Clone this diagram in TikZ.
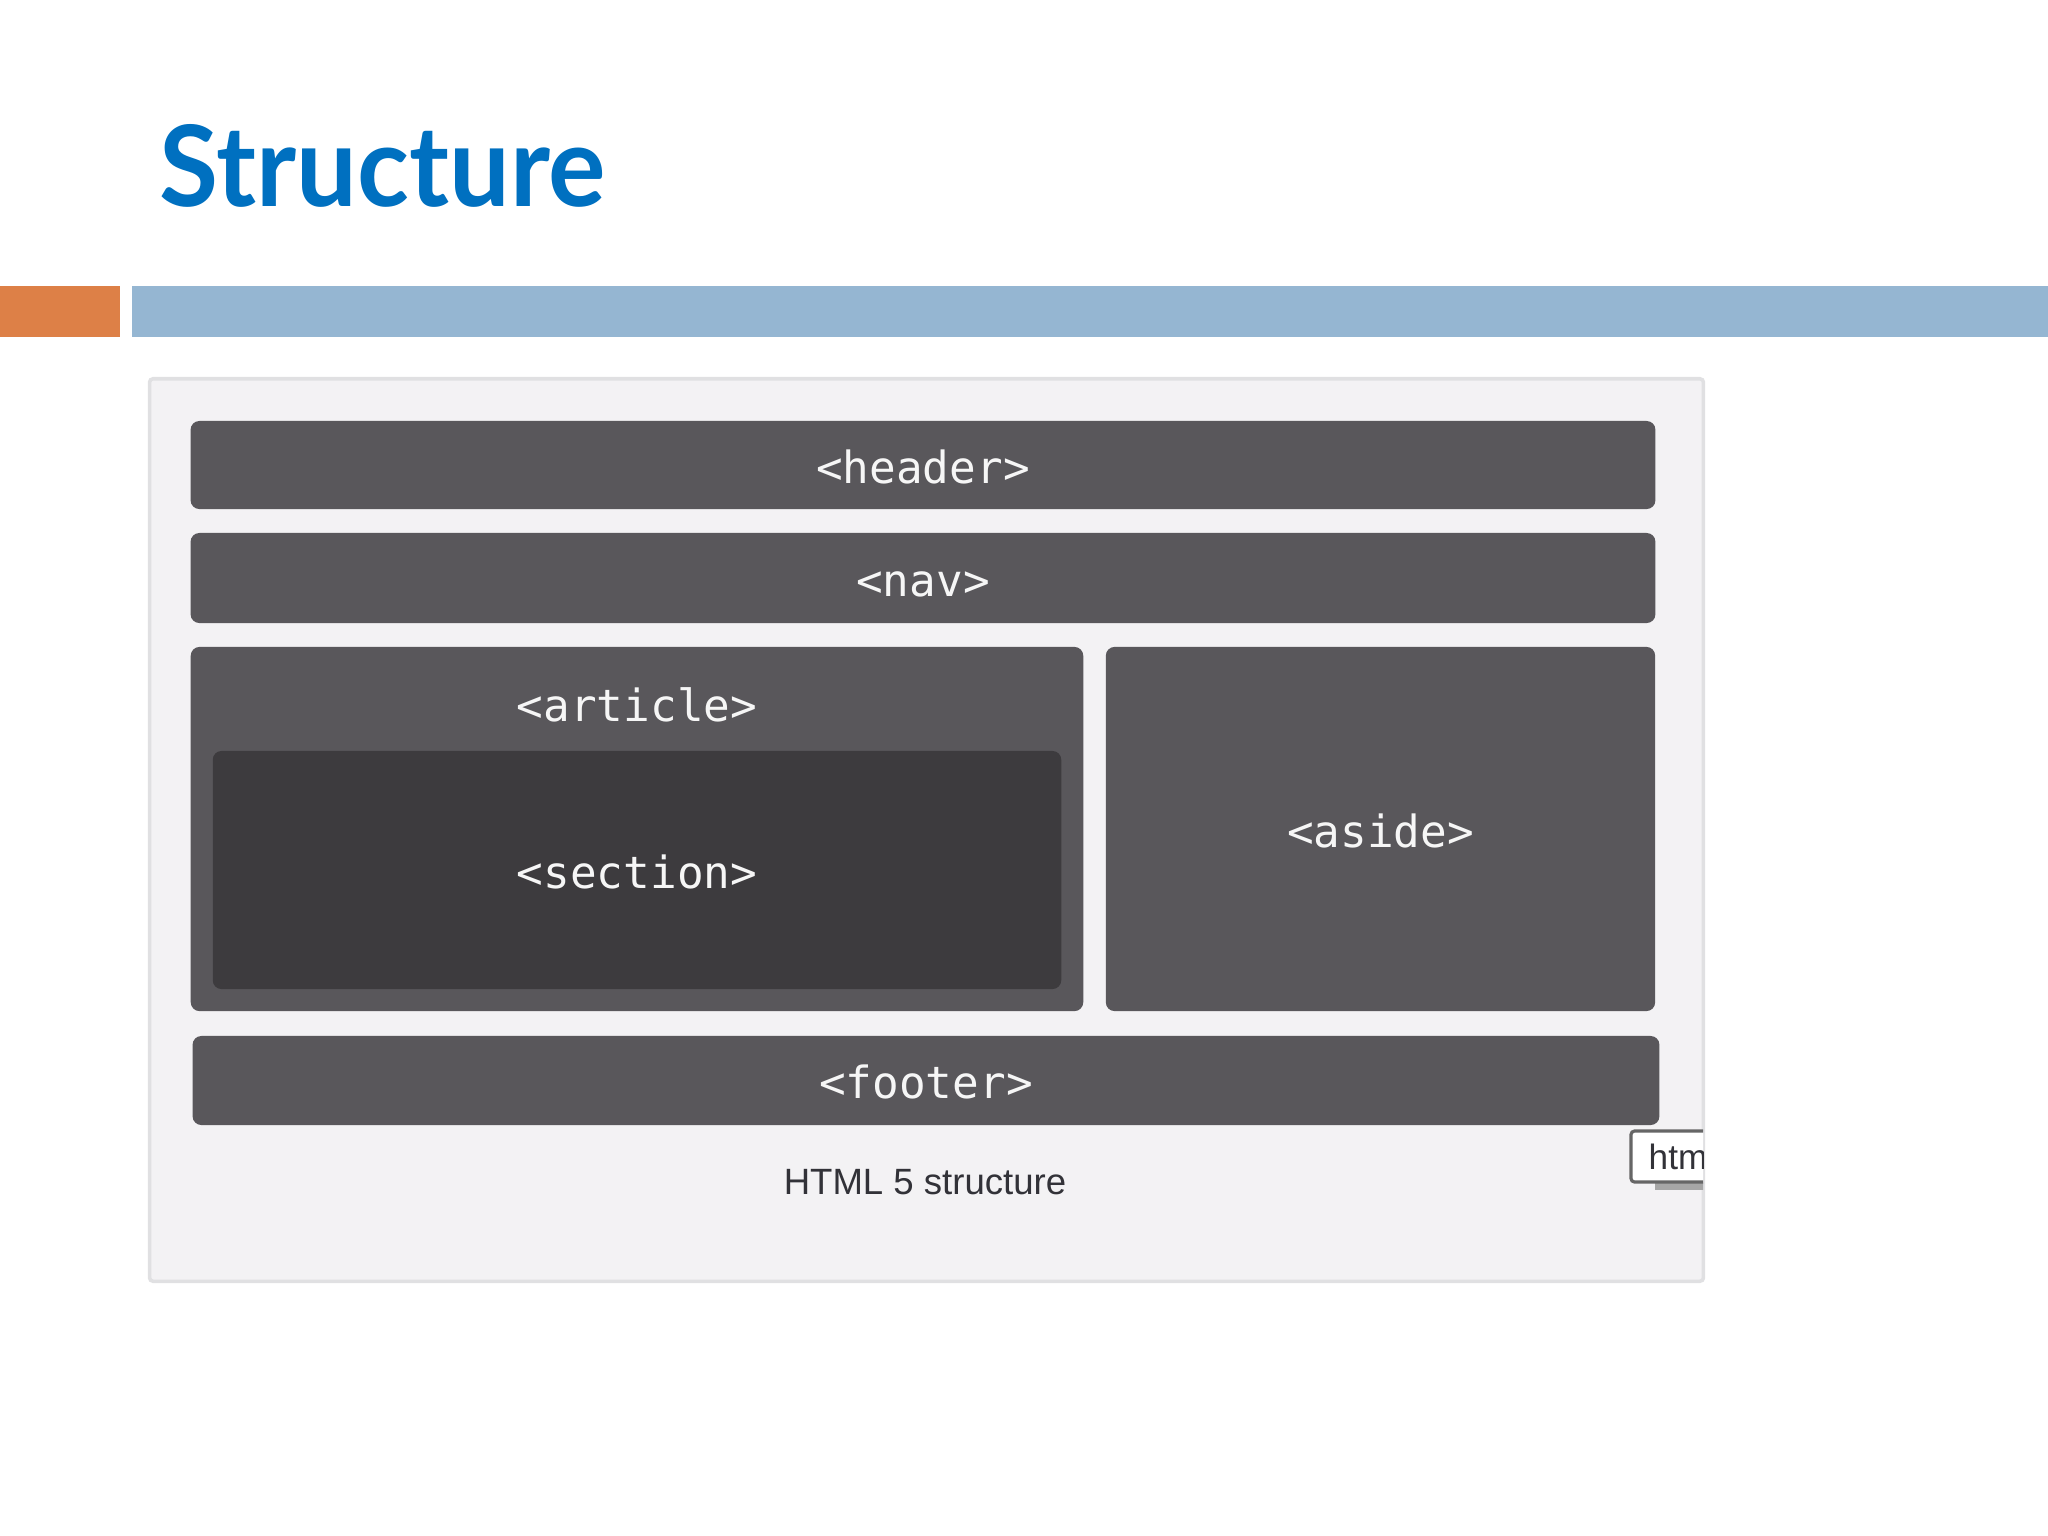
\documentclass[tikz,border=0pt]{standalone}
\usepackage{fontspec}
\usepackage{xcolor}
\usepackage{tikz}
\usetikzlibrary{positioning}
\newfontfamily\tagfont{DejaVu Sans Mono}
\newfontfamily\capfont{Liberation Sans}
\newfontfamily\titlefont{Lato}
\definecolor{titleblue}{RGB}{0,112,192}
\definecolor{barorange}{RGB}{221,128,71}
\definecolor{barblue}{RGB}{149,182,210}
\definecolor{panelgray}{RGB}{243,242,244}
\definecolor{panelline}{RGB}{224,224,226}
\definecolor{boxgray}{RGB}{89,87,91}
\definecolor{sectiongray}{RGB}{61,59,62}
\definecolor{tagwhite}{RGB}{246,246,246}
\definecolor{captext}{RGB}{50,50,56}
\tikzstyle{tagbox}=[rectangle,rounded corners=2.5pt,fill=boxgray,inner sep=0pt]
\tikzstyle{tagtext}=[text=tagwhite,font=\tagfont\fontsize{12.6}{15}\selectfont,inner sep=0pt,text height=10.5pt,text depth=0pt]

\begin{document}
\begin{tikzpicture}[x=0.01cm,y=-0.01cm]
\useasboundingbox (0,0) rectangle (2048,1536);
\fill[white] (0,0) rectangle (2048,1536);

%title
\node[anchor=base west,inner sep=0pt,text=titleblue] (title) at (159,206)
  {\resizebox{4.46cm}{0.82cm}{\titlefont\bfseries Structure}};

%bars
\fill[barorange] (0,286) rectangle (120,337);
\fill[barblue] (132,286) rectangle (2048,337);

%panel
\node[rectangle,rounded corners=1pt,fill=panelgray,draw=panelline,line width=1pt,
  minimum width=15.53cm,minimum height=9.02cm,inner sep=0pt] (panel) at (926.5,830) {};

%header and nav
\node[tagbox,tagtext,minimum width=14.64cm,minimum height=0.88cm] (header) at (923,465) {<header>};
\node[tagbox,tagtext,minimum width=14.64cm,minimum height=0.90cm] (nav) at (923,578) {<nav>};

%article with section
\node[tagbox,minimum width=8.92cm,minimum height=3.64cm] (article) at (637,829) {};
\node[tagtext] (articlelbl) at (637,703) {<article>};
\node[tagbox,tagtext,fill=sectiongray,minimum width=8.48cm,minimum height=2.38cm] (section) at (637,870) {<section>};

%aside
\node[tagbox,tagtext,minimum width=5.49cm,minimum height=3.64cm] (aside) at (1380.5,829) {<aside>};

%footer
\node[tagbox,tagtext,minimum width=14.66cm,minimum height=0.89cm] (footer) at (926,1080.5) {<footer>};

%caption
\node[text=captext,font=\capfont\fontsize{10.4}{12}\selectfont,inner sep=0pt] (caption) at (925,1182) {HTML 5 structure};

%tooltip, cut off at the panel edge
\begin{scope}
\clip (1620,1120) rectangle (1703,1200);
\fill[black!35] (1655,1183) rectangle (1710,1190);
\draw[fill=white,draw=black!60,line width=0.9pt,rounded corners=1pt] (1631,1131) rectangle (1730,1182);
\node[anchor=west,inner sep=0pt,text=captext,font=\capfont\fontsize{10}{12}\selectfont] (tip) at (1648,1157) {htm};
\end{scope}

\end{tikzpicture}
\end{document}
